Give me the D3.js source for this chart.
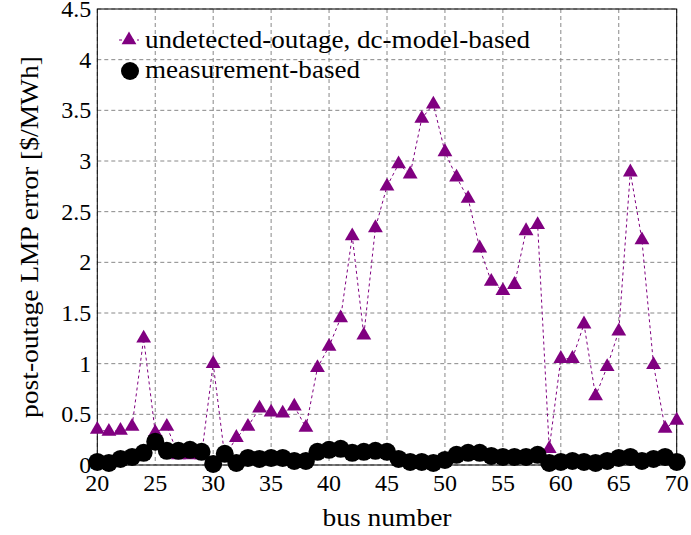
<!DOCTYPE html>
<html><head><meta charset="utf-8">
<script src="https://cdn.jsdelivr.net/npm/d3@7"></script>
<style>body{margin:0;background:#fff} #c, #c text{font-family:"Liberation Serif","Times New Roman",Tinos,serif}</style>
</head><body>
<svg id="c" width="691" height="535"></svg>
<script>
const buses = d3.range(20, 71);
const dcModel = [0.35,0.33,0.34,0.38,1.25,0.32,0.38,0.1,0.1,0.1,
  1.0,0.08,0.27,0.38,0.56,0.52,0.51,0.58,0.37,0.96,
  1.17,1.45,2.26,1.28,2.34,2.75,2.97,2.87,3.42,3.56,
  3.09,2.84,2.63,2.14,1.81,1.72,1.78,2.31,2.37,0.16,
  1.05,1.05,1.39,0.68,0.97,1.32,2.89,2.22,0.99,0.36,0.44];
const measBased = [0.03,0.02,0.06,0.08,0.12,0.23,0.14,0.14,0.15,0.13,
  0.01,0.11,0.02,0.07,0.06,0.07,0.07,0.04,0.04,0.13,
  0.15,0.16,0.12,0.13,0.14,0.13,0.06,0.03,0.03,0.02,
  0.05,0.1,0.12,0.12,0.09,0.08,0.08,0.08,0.1,0.02,
  0.03,0.04,0.03,0.02,0.04,0.07,0.08,0.04,0.06,0.08,0.03];
const xTicks = [20,25,30,35,40,45,50,55,60,65,70];
const yTicks = [0,0.5,1,1.5,2,2.5,3,3.5,4,4.5];
const legendLabels = ["undetected-outage, dc-model-based","measurement-based"];

const FONT = '"Liberation Serif", "Times New Roman", Tinos, serif';
const svg = d3.select("#c").attr("font-family",FONT);
const L=97.3, R=676.7, T=9, B=465;
const x = d3.scaleLinear().domain([20,70]).range([L,R]);
const y = d3.scaleLinear().domain([0,4.5]).range([B,T]);
const purple = "#800080";

svg.append("g").selectAll("line").data(xTicks).join("line")
  .attr("x1",d=>x(d)).attr("x2",d=>x(d)).attr("y1",T).attr("y2",B)
  .attr("stroke","#888").attr("stroke-width",1).attr("stroke-dasharray","4,3");
svg.append("g").selectAll("line").data(yTicks).join("line")
  .attr("x1",L).attr("x2",R).attr("y1",d=>y(d)).attr("y2",d=>y(d))
  .attr("stroke","#888").attr("stroke-width",1).attr("stroke-dasharray","4,3");

svg.append("g").selectAll("text").data(xTicks).join("text")
  .attr("x",d=>x(d)).attr("y",B+18).attr("dy","0.33em").attr("text-anchor","middle")
  .style("font-family",FONT).style("font-size","24px").text(d3.format("d"));
svg.append("g").selectAll("text").data(yTicks).join("text")
  .attr("x",L-6).attr("y",d=>y(d)).attr("dy","0.33em").attr("text-anchor","end")
  .style("font-family",FONT).style("font-size","24px").text(d=>String(d));

svg.append("rect").attr("x",L).attr("y",T).attr("width",R-L).attr("height",B-T)
  .attr("fill","none").attr("stroke","#000").attr("stroke-width",1);

svg.append("path").datum(buses.map((b,i)=>[b,dcModel[i]]))
  .attr("d",d3.line().x(d=>x(d[0])).y(d=>y(d[1])))
  .attr("fill","none").attr("stroke",purple).attr("stroke-width",1).attr("stroke-dasharray","3,3");

const tri = d3.symbol().type(d3.symbolTriangle).size(95);
svg.append("g").selectAll("path").data(buses.map((b,i)=>[b,dcModel[i]])).join("path")
  .attr("d",tri).attr("transform",d=>`translate(${x(d[0])},${y(d[1])})`)
  .attr("fill",purple);

svg.append("g").selectAll("circle").data(buses.map((b,i)=>[b,measBased[i]])).join("circle")
  .attr("cx",d=>x(d[0])).attr("cy",d=>y(d[1])).attr("r",9).attr("fill","#000");

const lg = svg.append("g");
lg.append("line").attr("x1",119).attr("x2",139).attr("y1",40).attr("y2",40)
  .attr("stroke",purple).attr("stroke-width",1).attr("stroke-dasharray","3,3");
lg.append("path").attr("d",tri).attr("transform","translate(129,40)").attr("fill",purple);
lg.append("circle").attr("cx",130).attr("cy",71).attr("r",9).attr("fill","#000");
const lens=[385,215];
legendLabels.forEach((t,i)=>{
  lg.append("text").attr("x",145).attr("y",40+i*30).attr("dy","0.33em")
    .attr("textLength",lens[i]).attr("lengthAdjust","spacingAndGlyphs")
    .style("font-family",FONT).style("font-size","25px").text(t);
});

svg.append("text").attr("x",387).attr("y",518).attr("dy","0.33em").attr("text-anchor","middle")
  .attr("textLength",129).attr("lengthAdjust","spacingAndGlyphs")
  .style("font-family",FONT).style("font-size","25px").text("bus number");
svg.append("text").attr("transform","translate(30,237) rotate(-90)").attr("dy","0.33em").attr("text-anchor","middle")
  .attr("textLength",362).attr("lengthAdjust","spacingAndGlyphs")
  .style("font-family",FONT).style("font-size","25px").text("post-outage LMP error [$/MWh]");
</script>
</body></html>
